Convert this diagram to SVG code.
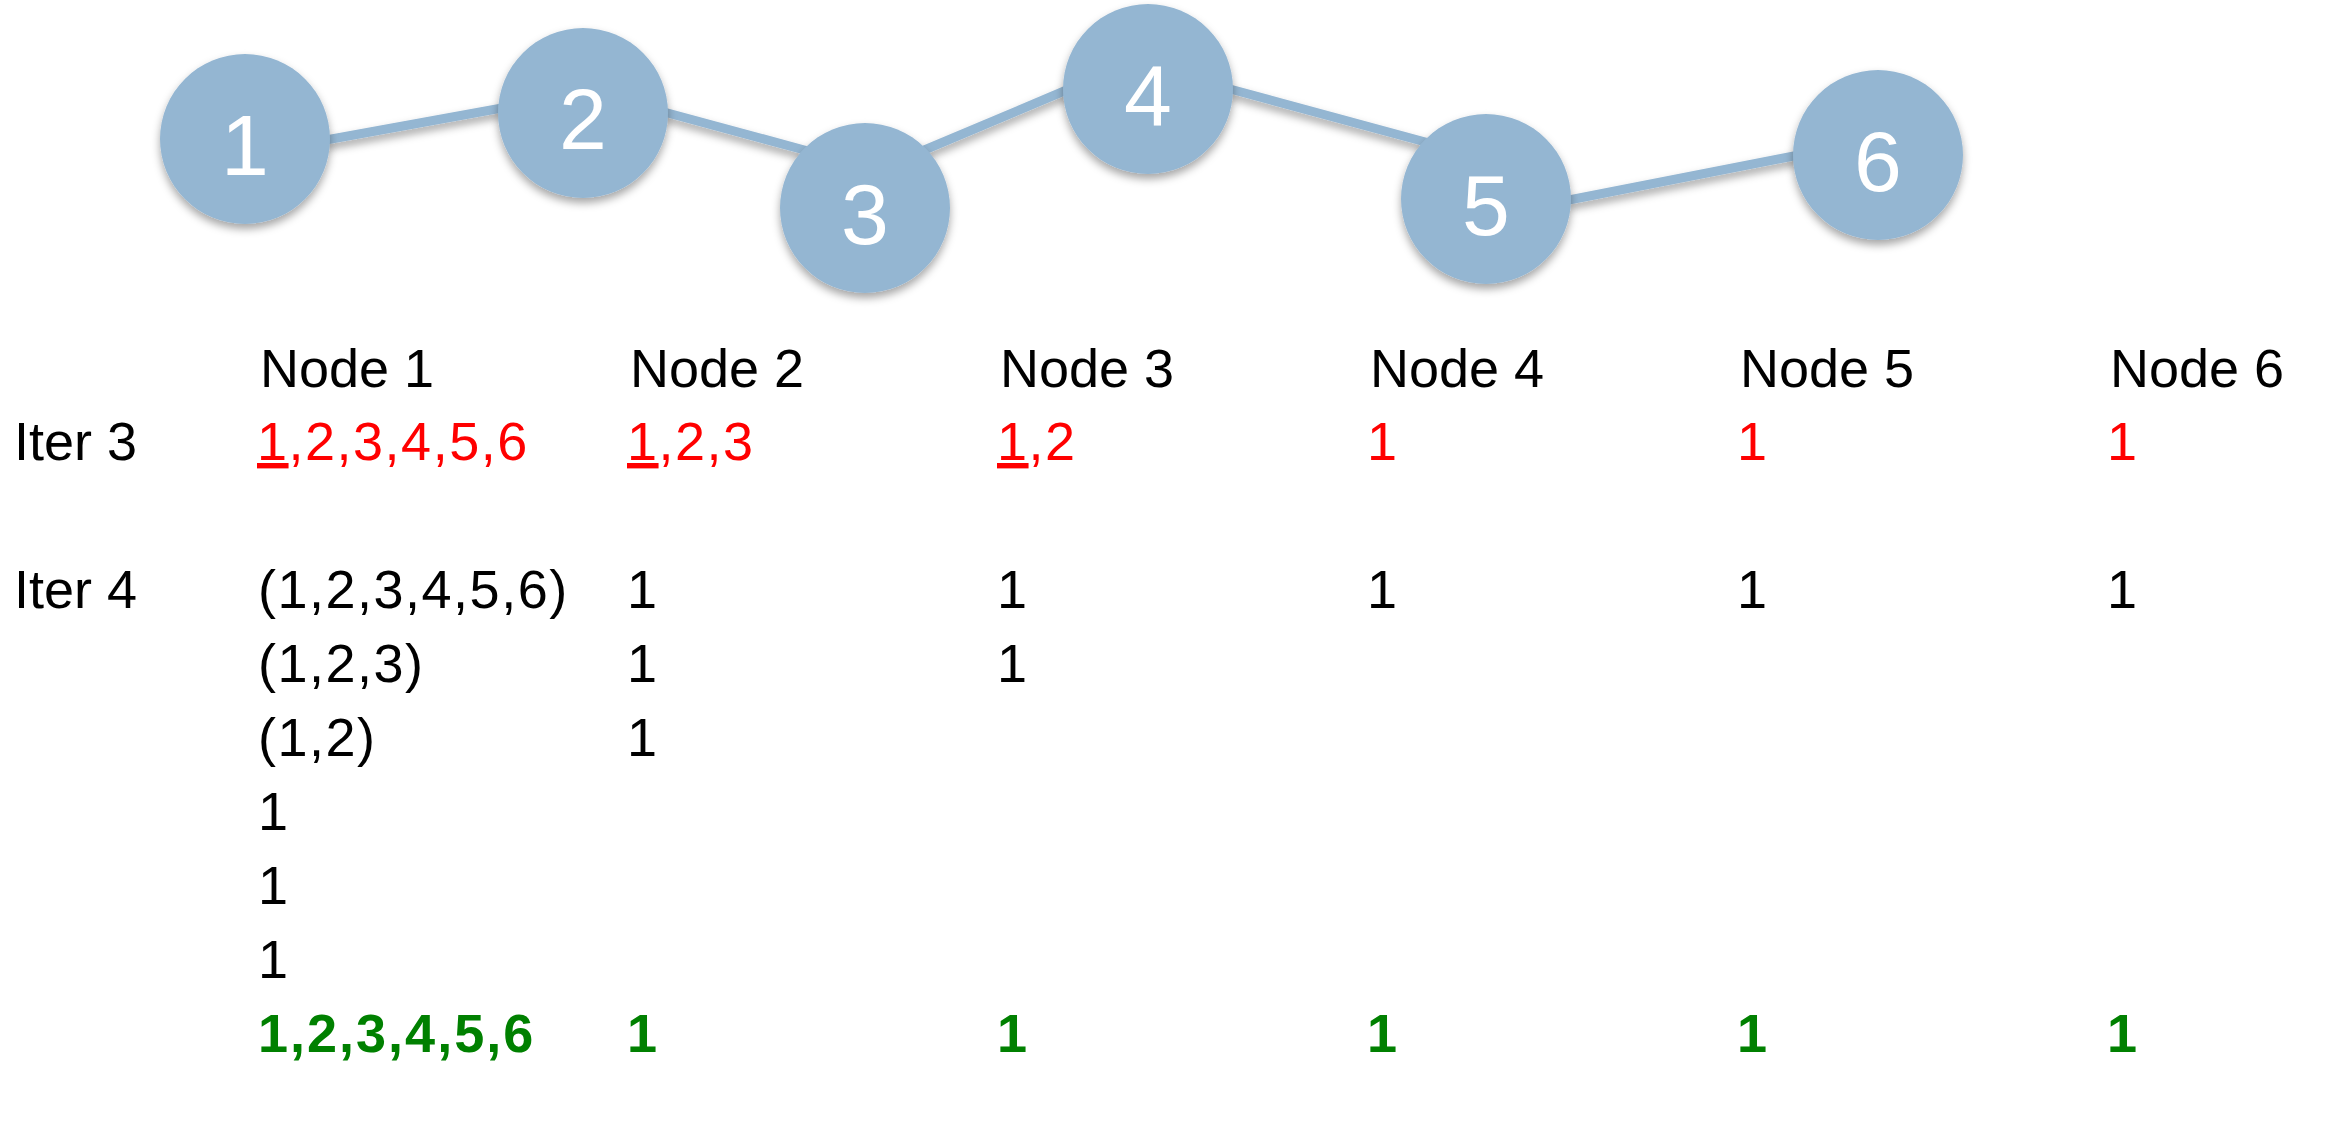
<svg xmlns="http://www.w3.org/2000/svg" width="2330" height="1132" viewBox="0 0 2330 1132">
<defs>
<filter id="sh" x="-20%" y="-20%" width="140%" height="150%">
<feDropShadow dx="0" dy="5" stdDeviation="4" flood-color="#000" flood-opacity="0.35"/>
</filter>
<style>
.edge{stroke:#94b6d2;stroke-width:9;stroke-linecap:butt;fill:none}
.circ{fill:#94b6d2}
.num{font-family:"Liberation Sans",Arial,sans-serif;font-size:86px;fill:#fff;text-anchor:middle}
.t{font-family:"Liberation Sans",Arial,sans-serif;font-size:54px;fill:#000}
.ls{letter-spacing:1.5px}
.r{fill:#ff0000}
.g{fill:#008000;font-weight:bold}
</style>
</defs>
<rect width="2330" height="1132" fill="#fff"/>
<g id="connectors" filter="url(#sh)">
<line class="edge" x1="326" y1="140" x2="502" y2="108"/>
<line class="edge" x1="664" y1="112" x2="808" y2="151"/>
<line class="edge" x1="922" y1="151" x2="1069" y2="89"/>
<line class="edge" x1="1230" y1="89" x2="1429" y2="143"/>
<line class="edge" x1="1569" y1="200" x2="1799" y2="155"/>
</g>
<g id="node1" filter="url(#sh)"><circle class="circ" cx="245" cy="139" r="85"/><text class="num" x="245" y="175">1</text></g>
<g id="node2" filter="url(#sh)"><circle class="circ" cx="583" cy="113" r="85"/><text class="num" x="583" y="149">2</text></g>
<g id="node3" filter="url(#sh)"><circle class="circ" cx="865" cy="208" r="85"/><text class="num" x="865" y="244">3</text></g>
<g id="node4" filter="url(#sh)"><circle class="circ" cx="1148" cy="89" r="85"/><text class="num" x="1148" y="125">4</text></g>
<g id="node5" filter="url(#sh)"><circle class="circ" cx="1486" cy="199" r="85"/><text class="num" x="1486" y="235">5</text></g>
<g id="node6" filter="url(#sh)"><circle class="circ" cx="1878" cy="155" r="85"/><text class="num" x="1878" y="191">6</text></g>
<g id="table">
<text class="t" x="260" y="387">Node 1</text>
<text class="t" x="630" y="387">Node 2</text>
<text class="t" x="1000" y="387">Node 3</text>
<text class="t" x="1370" y="387">Node 4</text>
<text class="t" x="1740" y="387">Node 5</text>
<text class="t" x="2110" y="387">Node 6</text>
<text class="t" x="14" y="460">Iter 3</text>
<text class="t r ls" x="257" y="460"><tspan text-decoration="underline">1</tspan>,2,3,4,5,6</text>
<text class="t r ls" x="627" y="460"><tspan text-decoration="underline">1</tspan>,2,3</text>
<text class="t r ls" x="997" y="460"><tspan text-decoration="underline">1</tspan>,2</text>
<text class="t r" x="1367" y="460">1</text>
<text class="t r" x="1737" y="460">1</text>
<text class="t r" x="2107" y="460">1</text>
<text class="t" x="14" y="608">Iter 4</text>
<text class="t ls" x="258" y="608">(1,2,3,4,5,6)</text>
<text class="t" x="627" y="608">1</text>
<text class="t" x="997" y="608">1</text>
<text class="t" x="1367" y="608">1</text>
<text class="t" x="1737" y="608">1</text>
<text class="t" x="2107" y="608">1</text>
<text class="t ls" x="258" y="682">(1,2,3)</text>
<text class="t" x="627" y="682">1</text>
<text class="t" x="997" y="682">1</text>
<text class="t ls" x="258" y="756">(1,2)</text>
<text class="t" x="627" y="756">1</text>
<text class="t" x="258" y="830">1</text>
<text class="t" x="258" y="904">1</text>
<text class="t" x="258" y="978">1</text>
<text class="t g" x="258" y="1052" style="letter-spacing:2px">1,2,3,4,5,6</text>
<text class="t g" x="627" y="1052">1</text>
<text class="t g" x="997" y="1052">1</text>
<text class="t g" x="1367" y="1052">1</text>
<text class="t g" x="1737" y="1052">1</text>
<text class="t g" x="2107" y="1052">1</text>
</g>
</svg>
